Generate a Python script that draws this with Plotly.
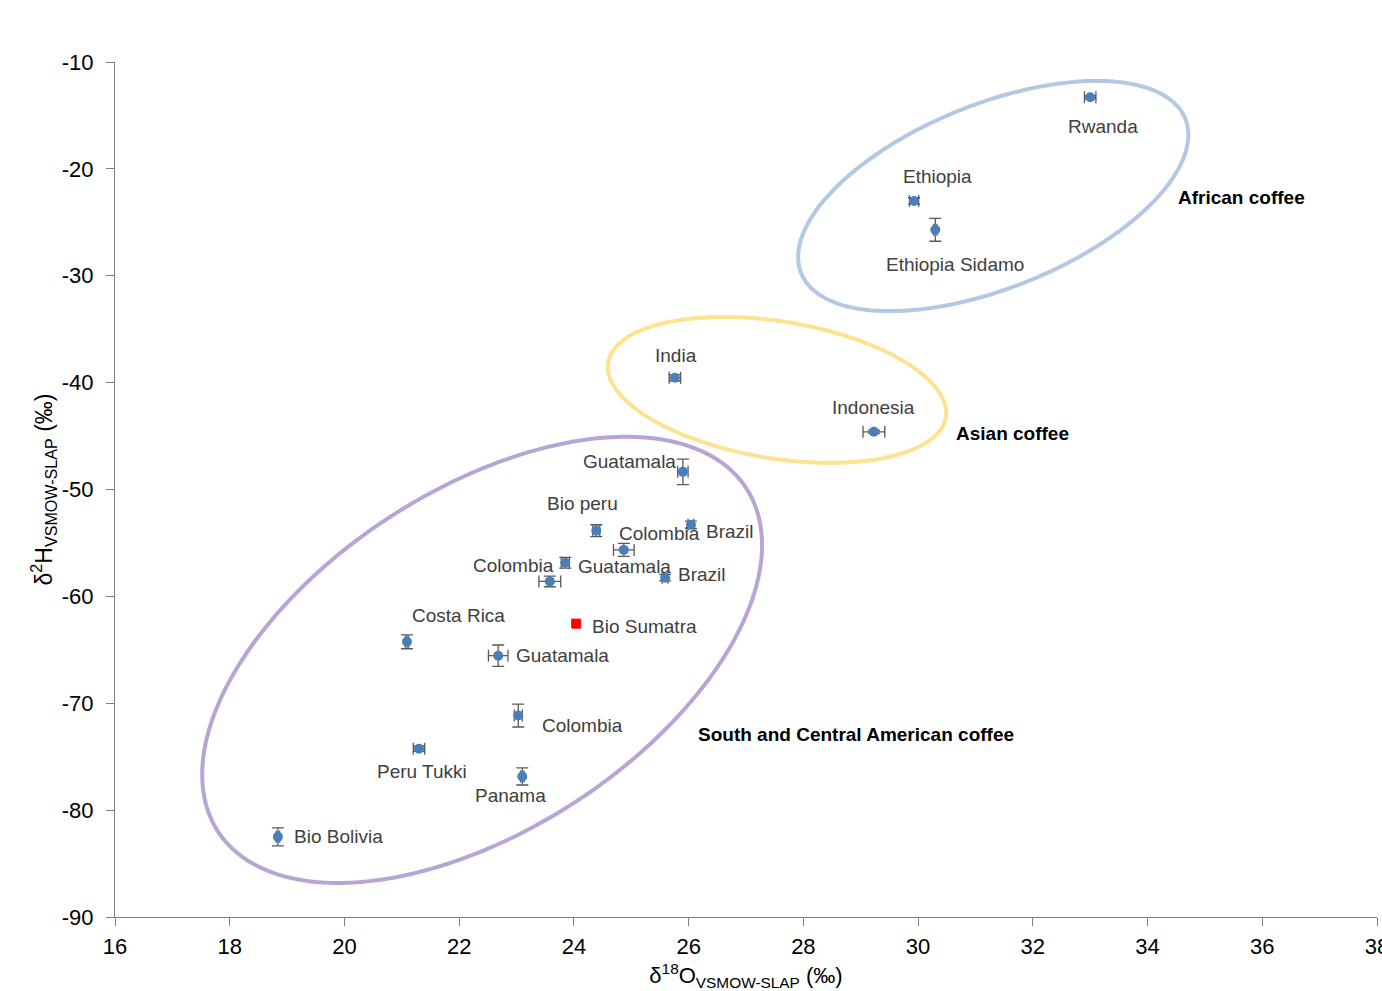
import numpy as np
import plotly.graph_objects as go

# Coffee samples: oxygen and hydrogen isotope ratios (‰) with standard deviations
names = ["Rwanda", "Ethiopia", "Ethiopia Sidamo", "India", "Indonesia",
         "Guatamala", "Brazil", "Bio peru", "Colombia", "Colombia",
         "Guatamala", "Brazil", "Costa Rica", "Guatamala", "Colombia",
         "Peru Tukki", "Panama", "Bio Bolivia"]
d18O = [33.00, 29.93, 30.30, 25.76, 29.23,
        25.90, 26.04, 24.39, 24.87, 23.58,
        23.85, 25.59, 21.09, 22.68, 23.03,
        21.30, 23.10, 18.84]
d2H = [-13.3, -23.0, -25.7, -39.55, -44.6,
       -48.35, -53.3, -53.85, -55.65, -58.6,
       -56.85, -58.25, -64.25, -65.55, -71.15,
       -74.25, -76.85, -82.5]
d18O_sd = [0.10, 0.08, 0.03, 0.10, 0.19,
           0.09, 0.05, 0.06, 0.18, 0.19,
           0.07, 0.05, 0.03, 0.17, 0.07,
           0.10, 0.03, 0.03]
d2H_sd = [0.15, 0.30, 1.07, 0.30, 0.15,
          1.20, 0.35, 0.55, 0.60, 0.50,
          0.50, 0.30, 0.65, 1.00, 1.07,
          0.25, 0.80, 0.84]

# Highlighted sample
special_name = ["Bio Sumatra"]
special_d18O = [24.04]
special_d2H = [-62.55]

x_ticks = [16, 18, 20, 22, 24, 26, 28, 30, 32, 34, 36, 38]
y_ticks = [-90, -80, -70, -60, -50, -40, -30, -20, -10]

# ---- layout geometry ----
W, H = 1382, 991
ML, MR, MT, MB = 115, 5, 62, 74
X_RANGE = [16, 38]
Y_RANGE = [-90, -10]
px_x = (W - ML - MR) / (X_RANGE[1] - X_RANGE[0])
px_y = (H - MT - MB) / (Y_RANGE[1] - Y_RANGE[0])

# label offsets in pixels (dx right, dy down) for each sample
label_offsets = [(13, 29), (23, -24), (20, 35), (1, -22), (0, -24),
                 (-53, -10), (39, 7), (-14, -27), (36, -16), (-36, -16),
                 (59, 4), (37, -3), (52, -26), (64, 0), (64, 10),
                 (3, 23), (-12, 19), (61, 0)]
special_offset = (68, 3)

fig = go.Figure()

# group ellipses: centre (data), semi-axes (px), rotation (deg, counter-clockwise on screen)
groups = [
    dict(cx=31.31, cy=-22.54, a=207, b=92, ang=21.9, color="#B3C8E3",
         label="African coffee", lx=35.63, ly=-22.72),
    dict(cx=27.54, cy=-40.68, a=171, b=68.5, ang=-9.2, color="#FDE38F",
         label="Asian coffee", lx=31.64, ly=-44.8),
    dict(cx=22.40, cy=-65.94, a=315, b=170, ang=33.0, color="#B9A5D4",
         label="South and Central American coffee", lx=28.92, ly=-72.95),
]

t = np.linspace(0, 2 * np.pi, 241)
for g in groups:
    th = np.deg2rad(g["ang"])
    ex = g["a"] * np.cos(t) * np.cos(th) - g["b"] * np.sin(t) * np.sin(th)
    ey = g["a"] * np.cos(t) * np.sin(th) + g["b"] * np.sin(t) * np.cos(th)
    xs = g["cx"] + ex / px_x
    ys = g["cy"] + ey / px_y
    path = "M " + " L ".join(f"{a:.4f},{b:.4f}" for a, b in zip(xs, ys)) + " Z"
    fig.add_shape(type="path", path=path, xref="x", yref="y",
                  line=dict(color=g["color"], width=4), layer="below")
    fig.add_annotation(x=g["lx"], y=g["ly"], xref="x", yref="y", text=f"<b>{g['label']}</b>",
                       showarrow=False, xanchor="center", yanchor="middle",
                       font=dict(family="Liberation Sans, Arial", size=19, color="#000000"))

err_style = dict(type="data", symmetric=True, color="#595959", thickness=1.3, width=6)

fig.add_trace(go.Scatter(
    x=d18O, y=d2H, mode="markers", name="coffee",
    marker=dict(color="#4A7EBB", size=10),
    error_x=dict(array=d18O_sd, **err_style),
    error_y=dict(array=d2H_sd, **err_style),
    showlegend=False, hoverinfo="text", text=names,
))
fig.add_trace(go.Scatter(
    x=special_d18O, y=special_d2H, mode="markers", name="Bio Sumatra",
    marker=dict(color="#FF0000", size=9, symbol="square", line=dict(width=1, color="#FF0000")),
    showlegend=False, hoverinfo="text", text=special_name,
))

lab_font = dict(family="Liberation Sans, Arial", size=19, color="#404040")
for nm, xv, yv, (dx, dy) in zip(names + special_name, d18O + special_d18O,
                                d2H + special_d2H, label_offsets + [special_offset]):
    fig.add_annotation(x=xv, y=yv, xref="x", yref="y", text=nm, showarrow=False,
                       xshift=dx, yshift=-dy, xanchor="center", yanchor="middle",
                       font=lab_font)

axis_common = dict(
    showgrid=False, zeroline=False, showline=True, linecolor="#7F7F7F", linewidth=1.3,
    ticks="outside", ticklen=8, tickwidth=1.3, tickcolor="#7F7F7F",
    tickfont=dict(family="Liberation Sans, Arial", size=22, color="#000000"),
    ticklabeloverflow="allow", automargin=False,
)

fig.update_xaxes(range=X_RANGE, tickvals=x_ticks, ticktext=[str(v) for v in x_ticks],
                 ticklabelstandoff=1,
                 title=dict(text="δ<sup>18</sup>O<sub>VSMOW-SLAP</sub> (‰)", standoff=17,
                            font=dict(family="Liberation Sans, Arial", size=22, color="#000000")),
                 **axis_common)
fig.update_yaxes(range=Y_RANGE, tickvals=y_ticks, ticktext=[str(v) for v in y_ticks],
                 ticklabelstandoff=8,
                 title=dict(text="δ<sup>2</sup>H<sub>VSMOW-SLAP</sub> (‰)", standoff=2,
                            font=dict(family="Liberation Sans, Arial", size=23, color="#000000")),
                 **axis_common)

fig.update_layout(
    width=W, height=H,
    margin=dict(l=ML, r=MR, t=MT, b=MB, pad=0, autoexpand=False),
    paper_bgcolor="white", plot_bgcolor="white",
    showlegend=False,
)

fig.write_html("out.html")
